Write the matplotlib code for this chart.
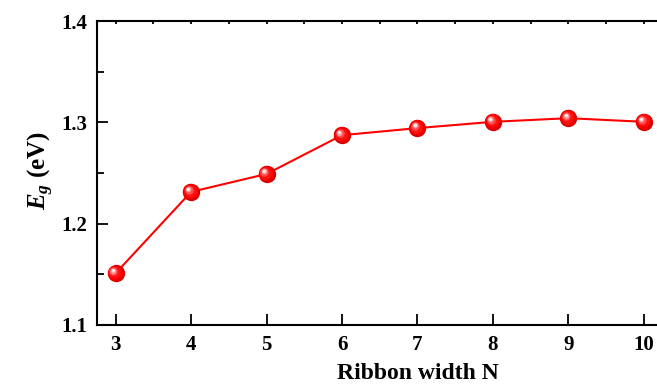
import matplotlib
matplotlib.use("Agg")
import matplotlib.pyplot as plt
import matplotlib.transforms as mtransforms
from matplotlib.ticker import MultipleLocator

# datos
anchos = [3, 4, 5, 6, 7, 8, 9, 10]
gap = [1.151, 1.2314, 1.2491, 1.2874, 1.2944, 1.3006, 1.3042, 1.3006]

plt.rcParams['font.family'] = ['Liberation Serif', 'DejaVu Serif']
plt.rcParams['mathtext.fontset'] = 'custom'
plt.rcParams['mathtext.it'] = 'Liberation Serif:italic:bold'
plt.rcParams['mathtext.rm'] = 'Liberation Serif:bold'
plt.rcParams['mathtext.bf'] = 'Liberation Serif:bold'

fig = plt.figure(figsize=(6.57, 3.85), dpi=100)
ax = fig.add_axes([0.147, 0.156, 0.879, 0.789])

ax.plot(anchos, gap, color='red', lw=1.5, zorder=2)

# esferas rojas con brillo
ax.plot(anchos, gap, 'o', ms=12.5, color='#d80000', mec='none', zorder=3)
capas = [(11.0, '#f20000', -0.5, 0.5), (9.0, '#ff1010', -1.0, 1.0),
         (6.0, '#ff5050', -1.6, 1.6), (4.0, '#ff9a9a', -1.9, 1.9),
         (2.4, '#ffe0e0', -2.1, 2.1), (1.2, 'white', -2.2, 2.2)]
for tam, col, dx, dy in capas:
    tr = mtransforms.offset_copy(ax.transData, fig=fig, x=dx, y=dy, units='points')
    ax.plot(anchos, gap, 'o', ms=tam, color=col, mec='none', transform=tr, zorder=4)

ax.set_xlim(2.748, 10.4)
ax.set_ylim(1.1, 1.4)
ax.xaxis.set_major_locator(MultipleLocator(1))
ax.yaxis.set_major_locator(MultipleLocator(0.1))
ax.yaxis.set_minor_locator(MultipleLocator(0.05))

for s in ax.spines.values():
    s.set_linewidth(1.5)
ax.spines['right'].set_visible(False)

ax.tick_params(axis='y', which='major', direction='in', length=8, width=1.3,
               labelsize=15, pad=6.5)
ax.tick_params(axis='y', which='minor', direction='in', length=5, width=1.3)
ax.tick_params(axis='x', which='major', direction='in', length=8, width=1.3,
               labelsize=15, pad=7)
ax.tick_params(axis='x', which='minor', bottom=False)

# ticks pequeños arriba cada 0.5
sec = ax.secondary_xaxis('top')
sec.xaxis.set_major_locator(MultipleLocator(0.5))
sec.tick_params(direction='in', length=2, width=1.3, labeltop=False)
for s in sec.spines.values():
    s.set_visible(False)

for lab in ax.get_xticklabels() + ax.get_yticklabels():
    lab.set_fontweight('bold')

ax.set_xlabel('Ribbon width N', fontsize=17, fontweight='bold')
ax.xaxis.set_label_coords(0.557, -0.125)
ax.set_ylabel(r'$E_g$ (eV)', fontsize=18, fontweight='bold')
ax.yaxis.set_label_coords(-0.07, 0.51)

fig.savefig('out.png', dpi=100)
